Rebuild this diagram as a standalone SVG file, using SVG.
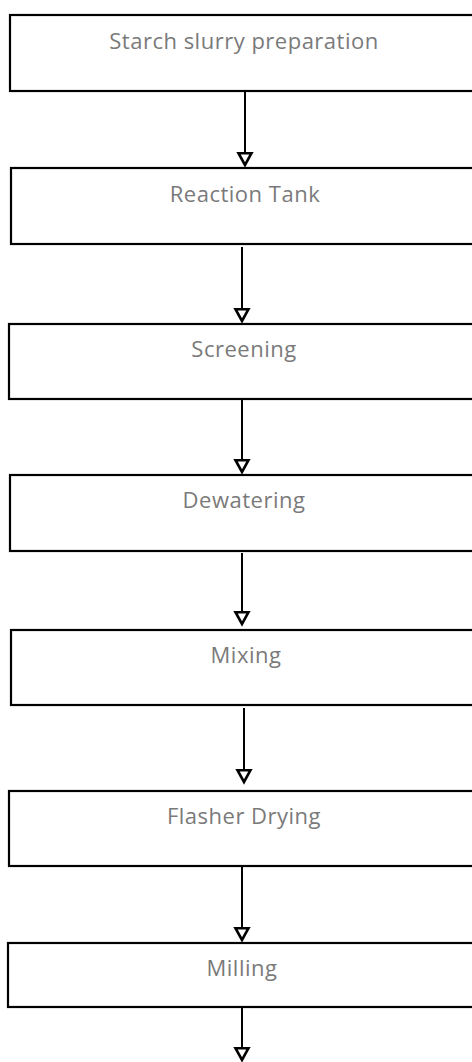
<svg xmlns="http://www.w3.org/2000/svg" width="472" height="1062" viewBox="0 0 472 1062">
<defs>
<style>
.box{fill:#fff;stroke:#000;stroke-width:2.2}
.lbl{font-family:"Open Sans","DejaVu Sans",sans-serif;font-size:22px;letter-spacing:0.5px;fill:#7a7a7a;text-anchor:middle}
.con{stroke:#000;stroke-width:2;fill:none}
</style>
<marker id="ah" markerUnits="userSpaceOnUse" markerWidth="20" markerHeight="20" viewBox="-3 -3 20 20" refX="14" refY="7" orient="auto">
<path d="M1.2,0.5 L13,7 L1.2,13.5 z" fill="#fff" stroke="#000" stroke-width="2.6" stroke-linejoin="miter"/>
</marker>
</defs>
<rect width="472" height="1062" fill="#fff"/>
<g id="n1"><rect class="box" x="10" y="15" width="470" height="76"/><text class="lbl" x="244" y="49">Starch slurry preparation</text></g>
<g id="n2"><rect class="box" x="11" y="168" width="470" height="76"/><text class="lbl" x="245" y="202">Reaction Tank</text></g>
<g id="n3"><rect class="box" x="9" y="324" width="470" height="75"/><text class="lbl" x="244" y="357">Screening</text></g>
<g id="n4"><rect class="box" x="10" y="475" width="470" height="76"/><text class="lbl" x="244" y="508">Dewatering</text></g>
<g id="n5"><rect class="box" x="11" y="630" width="470" height="75"/><text class="lbl" x="246" y="663">Mixing</text></g>
<g id="n6"><rect class="box" x="9" y="791" width="470" height="75"/><text class="lbl" x="244" y="824">Flasher Drying</text></g>
<g id="n7"><rect class="box" x="8" y="943" width="470" height="64"/><text class="lbl" x="242" y="976">Milling</text></g>
<g id="connectors">
<line class="con" x1="245" y1="92" x2="245" y2="166" marker-end="url(#ah)"/>
<line class="con" x1="242" y1="247" x2="242" y2="322" marker-end="url(#ah)"/>
<line class="con" x1="242" y1="400" x2="242" y2="473" marker-end="url(#ah)"/>
<line class="con" x1="242" y1="553" x2="242" y2="625" marker-end="url(#ah)"/>
<line class="con" x1="244" y1="708" x2="244" y2="783" marker-end="url(#ah)"/>
<line class="con" x1="242" y1="867" x2="242" y2="941" marker-end="url(#ah)"/>
<line class="con" x1="242" y1="1008" x2="242" y2="1061" marker-end="url(#ah)"/>
</g>
</svg>
